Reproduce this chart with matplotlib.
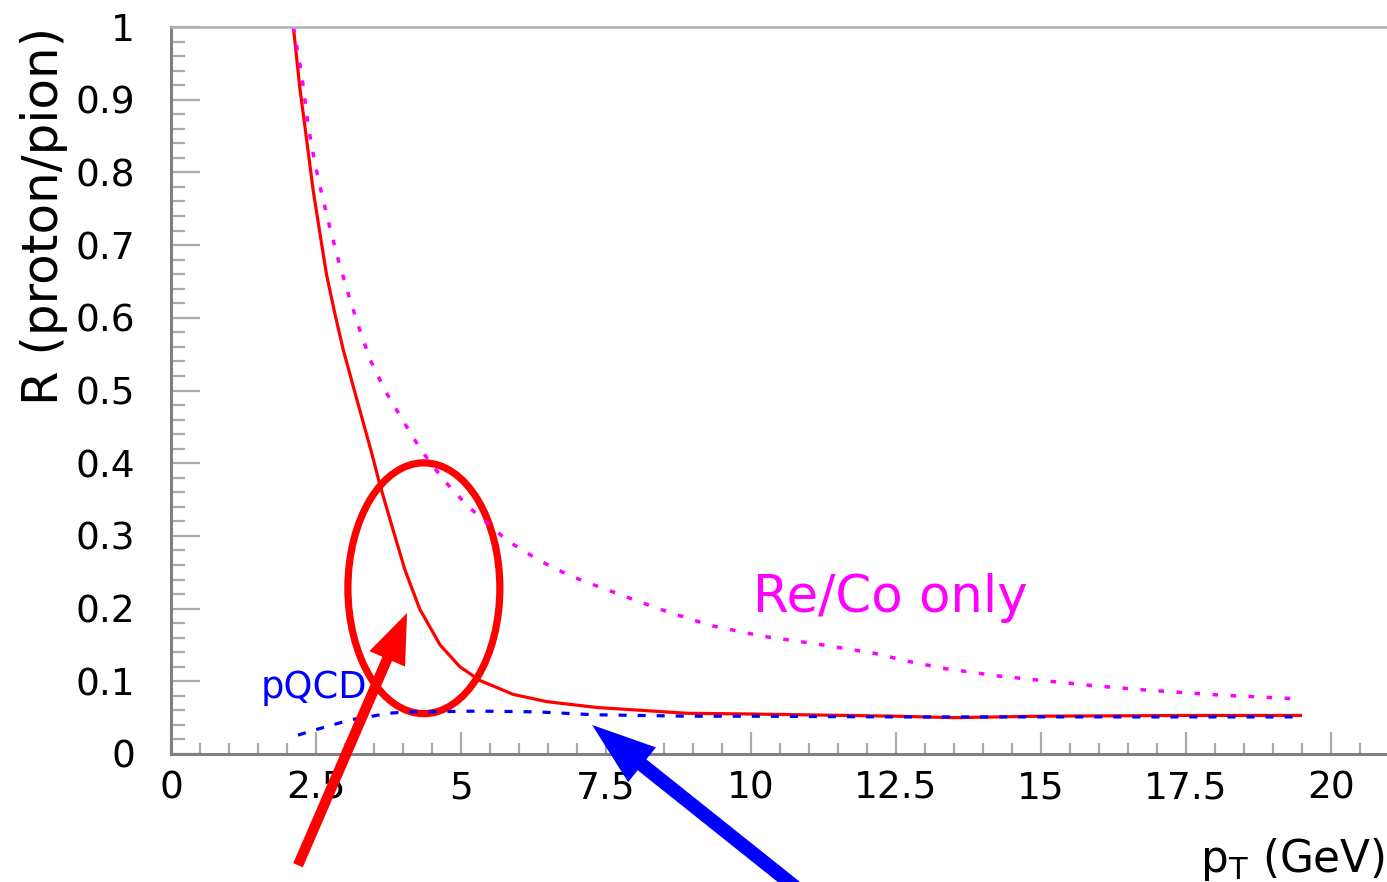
import matplotlib
matplotlib.use("Agg")
import matplotlib.pyplot as plt
from matplotlib.patches import Ellipse
from matplotlib.ticker import MultipleLocator, FixedLocator, FixedFormatter

plt.rcParams['font.family'] = ['DejaVu Sans']
plt.rcParams['lines.scale_dashes'] = False
plt.rcParams['mathtext.fontset'] = 'dejavusans'

# ---------------- data ----------------
full_pt = [2.11, 2.22, 2.34, 2.45, 2.57, 2.68, 2.83, 2.97, 3.12, 3.29, 3.46, 3.60, 3.80,
           4.03, 4.29, 4.64, 4.98, 5.33, 5.90, 6.48, 7.34, 8.9, 10.0, 12.5, 13.5, 15.0,
           17.5, 19.5]
full_R = [1.00, 0.917, 0.844, 0.776, 0.715, 0.660, 0.604, 0.556, 0.512, 0.463, 0.414,
          0.371, 0.316, 0.254, 0.199, 0.150, 0.120, 0.101, 0.082, 0.072, 0.064, 0.056,
          0.055, 0.052, 0.050, 0.052, 0.053, 0.053]

reco_pt = [2.11, 2.25, 2.37, 2.48, 2.60, 2.74, 2.89, 3.06, 3.23, 3.43, 3.69, 4.01, 4.32,
           4.70, 5.13, 5.79, 6.33, 6.88, 7.48, 8.4, 9.29, 10.2, 11.16, 12.1, 12.74, 13.38,
           14.3, 15.28, 15.9, 16.8, 18.1, 19.4]
reco_R = [1.00, 0.936, 0.862, 0.813, 0.770, 0.724, 0.678, 0.632, 0.589, 0.543, 0.500,
          0.457, 0.417, 0.377, 0.340, 0.294, 0.267, 0.245, 0.227, 0.200, 0.177, 0.162,
          0.151, 0.139, 0.127, 0.117, 0.107, 0.099, 0.094, 0.088, 0.081, 0.076]

pqcd_pt = [2.19, 2.52, 2.83, 3.09, 3.47, 3.74, 4.09, 4.26, 5.3, 6.3, 7.3, 8.9, 10.0,
           12.5, 15.0, 17.5, 19.5]
pqcd_R = [0.026, 0.034, 0.041, 0.047, 0.052, 0.056, 0.058, 0.058, 0.059, 0.058, 0.054,
          0.052, 0.052, 0.051, 0.051, 0.051, 0.051]

x_ticks = [0, 2.5, 5, 7.5, 10, 12.5, 15, 17.5, 20]
x_ticklabels = ["0", "2.5", "5", "7.5", "10", "12.5", "15", "17.5", "20"]
y_ticks = [0, 0.1, 0.2, 0.3, 0.4, 0.5, 0.6, 0.7, 0.8, 0.9, 1.0]
y_ticklabels = ["0", "0.1", "0.2", "0.3", "0.4", "0.5", "0.6", "0.7", "0.8", "0.9", "1"]

# ---------------- figure ----------------
W, H = 1387, 882
fig = plt.figure(figsize=(W / 100, H / 100), dpi=100)
x0, x1 = 171, 171 + 21.5 * 58
y0, y1 = 754, 27
ax = fig.add_axes([x0 / W, (H - y0) / H, (x1 - x0) / W, (y0 - y1) / H])
ax.set_xlim(0, 21.5)
ax.set_ylim(0, 1)

spine_c = '#808080'
tick_c = '#aaaaaa'
for s in ['left', 'bottom']:
    ax.spines[s].set_color(spine_c)
    ax.spines[s].set_linewidth(2.2)
ax.spines['top'].set_color('#b0b0b0')
ax.spines['top'].set_linewidth(1.8)
ax.spines['right'].set_visible(False)

ax.xaxis.set_major_locator(FixedLocator(x_ticks))
ax.xaxis.set_major_formatter(FixedFormatter(x_ticklabels))
ax.xaxis.set_minor_locator(MultipleLocator(0.5))
ax.yaxis.set_major_locator(FixedLocator(y_ticks))
ax.yaxis.set_major_formatter(FixedFormatter(y_ticklabels))
ax.yaxis.set_minor_locator(MultipleLocator(0.02))

ax.tick_params(axis='x', which='major', direction='in', length=16, width=1.6,
               color=tick_c, labelsize=27, pad=12, top=False)
ax.tick_params(axis='x', which='minor', direction='in', length=8, width=1.6,
               color=tick_c, top=False)
ax.tick_params(axis='y', which='major', direction='in', length=21, width=1.6,
               color=tick_c, labelsize=27, pad=26, right=False)
ax.tick_params(axis='y', which='minor', direction='in', length=10, width=1.6,
               color=tick_c, right=False)

# curves
ax.plot(full_pt, full_R, color='#ff0000', lw=2.3, solid_capstyle='butt',
        solid_joinstyle='round')
ax.plot(reco_pt, reco_R, color='#ff00ff', lw=2.5, dashes=(4.0, 9.0))
ax.plot(pqcd_pt, pqcd_R, color='#0000ff', lw=2.3, dashes=(5.8, 7.9))

# texts
ax.text(10.03, 0.195, "Re/Co only", color='#ff00ff', fontsize=37, ha='left',
        va='baseline')
ax.text(1.55, 0.077, "pQCD", color='#0000ff', fontsize=26.5, ha='left', va='baseline')

fig.text(44 / W, 1 - 27 / H, "R (proton/pion)", rotation=90, ha='center', va='top',
         fontsize=36)
fig.text(1385 / W, 1 - 872 / H, r"p$_\mathregular{T}$ (GeV)", ha='right',
         va='baseline', fontsize=31.5)

# annotations: ellipse and arrows
ell = Ellipse((4.36, 0.228), 2.62, 0.345, fill=False, edgecolor='#ff0000', lw=5.2)
ax.add_patch(ell)

ax.annotate("", xy=(4.07, 0.194), xytext=(2.19, -0.153), xycoords='data',
            textcoords='data', annotation_clip=False,
            arrowprops=dict(facecolor='#ff0000', edgecolor='none', width=7.5,
                            headwidth=28, headlength=36, shrink=0.0))
ax.annotate("", xy=(7.26, 0.040), xytext=(11.03, -0.20), xycoords='data',
            textcoords='data', annotation_clip=False,
            arrowprops=dict(facecolor='#0000ff', edgecolor='none', width=10,
                            headwidth=32, headlength=46, shrink=0.0))

fig.savefig("out.png", dpi=100)
